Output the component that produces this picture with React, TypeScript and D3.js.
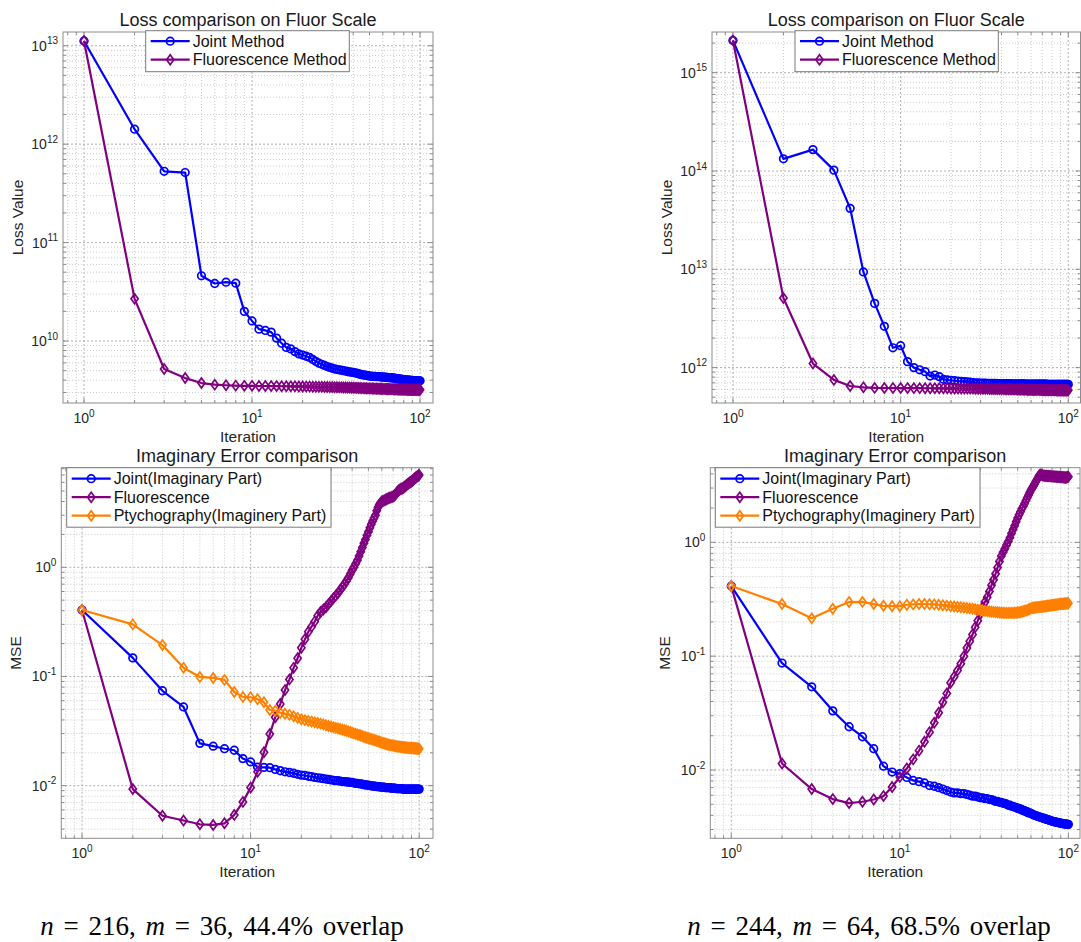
import React from "react";
import * as d3 from "d3";

// ---------- data ----------
const iterations = d3.range(1, 101);

const lossJointA = [
  1.12e13, 1.42e12, 5.3e11, 5.15e11, 4.6e10, 3.84e10, 3.96e10, 3.87e10, 2.0e10, 1.6e10,
  1.32e10, 1.28e10, 1.23e10, 1.07e10, 9.5e9, 8.6e9, 8.3e9, 7.8e9, 7.4e9, 7.2e9,
  7.0e9, 6.8e9, 6.5e9, 6.2e9, 5.95e9, 5.8e9, 5.65e9, 5.5e9, 5.4e9, 5.3e9,
  5.2e9, 5.15e9, 5.1e9, 5.05e9, 5.0e9, 4.95e9, 4.9e9, 4.85e9, 4.82e9, 4.8e9,
  4.75e9, 4.7e9, 4.65e9, 4.6e9, 4.55e9, 4.52e9, 4.5e9, 4.47e9, 4.44e9, 4.4e9,
  4.39e9, 4.38e9, 4.37e9, 4.36e9, 4.35e9, 4.35e9, 4.34e9, 4.33e9, 4.32e9, 4.3e9,
  4.29e9, 4.28e9, 4.27e9, 4.26e9, 4.25e9, 4.24e9, 4.23e9, 4.22e9, 4.21e9, 4.2e9,
  4.18e9, 4.16e9, 4.15e9, 4.13e9, 4.12e9, 4.1e9, 4.09e9, 4.08e9, 4.06e9, 4.05e9,
  4.04e9, 4.03e9, 4.02e9, 4.01e9, 4.0e9, 3.99e9, 3.98e9, 3.98e9, 3.97e9, 3.97e9,
  3.96e9, 3.96e9, 3.96e9, 3.95e9, 3.95e9, 3.95e9, 3.95e9, 3.94e9, 3.94e9, 3.94e9,
];
const lossFluorA = [
  1.12e13, 2.68e10, 5.2e9, 4.2e9, 3.74e9, 3.6e9, 3.55e9, 3.52e9, 3.5e9, 3.5e9,
  3.49e9, 3.49e9, 3.48e9, 3.48e9, 3.47e9, 3.47e9, 3.46e9, 3.46e9, 3.45e9, 3.45e9,
  3.44e9, 3.44e9, 3.43e9, 3.43e9, 3.42e9, 3.42e9, 3.41e9, 3.41e9, 3.4e9, 3.4e9,
  3.39e9, 3.39e9, 3.38e9, 3.38e9, 3.37e9, 3.37e9, 3.36e9, 3.36e9, 3.35e9, 3.35e9,
  3.34e9, 3.34e9, 3.33e9, 3.33e9, 3.32e9, 3.32e9, 3.31e9, 3.31e9, 3.3e9, 3.3e9,
  3.3e9, 3.29e9, 3.29e9, 3.28e9, 3.28e9, 3.28e9, 3.27e9, 3.27e9, 3.27e9, 3.26e9,
  3.26e9, 3.26e9, 3.25e9, 3.25e9, 3.25e9, 3.24e9, 3.24e9, 3.24e9, 3.24e9, 3.23e9,
  3.23e9, 3.23e9, 3.23e9, 3.22e9, 3.22e9, 3.22e9, 3.22e9, 3.22e9, 3.21e9, 3.21e9,
  3.21e9, 3.21e9, 3.21e9, 3.2e9, 3.2e9, 3.2e9, 3.2e9, 3.2e9, 3.2e9, 3.2e9,
  3.2e9, 3.19e9, 3.19e9, 3.19e9, 3.19e9, 3.19e9, 3.19e9, 3.19e9, 3.19e9, 3.19e9,
];
const lossJointB = [
  2.13e15, 1.33e14, 1.65e14, 1.02e14, 4.17e13, 9.4e12, 4.5e12, 2.63e12, 1.59e12, 1.67e12,
  1.15e12, 1.0e12, 9.5e11, 9.1e11, 8.2e11, 8.4e11, 8.1e11, 7.6e11, 7.5e11, 7.4e11,
  7.35e11, 7.3e11, 7.25e11, 7.2e11, 7.15e11, 7.1e11, 7.05e11, 7.0e11, 6.98e11, 6.95e11,
  6.94e11, 6.93e11, 6.92e11, 6.91e11, 6.9e11, 6.9e11, 6.89e11, 6.88e11, 6.88e11, 6.87e11,
  6.87e11, 6.86e11, 6.86e11, 6.85e11, 6.85e11, 6.84e11, 6.84e11, 6.83e11, 6.83e11, 6.82e11,
  6.82e11, 6.82e11, 6.81e11, 6.81e11, 6.81e11, 6.8e11, 6.8e11, 6.8e11, 6.8e11, 6.79e11,
  6.79e11, 6.79e11, 6.79e11, 6.78e11, 6.78e11, 6.78e11, 6.78e11, 6.78e11, 6.77e11, 6.77e11,
  6.77e11, 6.77e11, 6.77e11, 6.77e11, 6.76e11, 6.76e11, 6.76e11, 6.76e11, 6.76e11, 6.76e11,
  6.76e11, 6.76e11, 6.75e11, 6.75e11, 6.75e11, 6.75e11, 6.75e11, 6.75e11, 6.75e11, 6.75e11,
  6.75e11, 6.75e11, 6.75e11, 6.75e11, 6.75e11, 6.75e11, 6.75e11, 6.75e11, 6.75e11, 6.75e11,
];
const lossFluorB = [
  2.13e15, 5.1e12, 1.1e12, 7.5e11, 6.5e11, 6.3e11, 6.22e11, 6.2e11, 6.2e11, 6.19e11,
  6.19e11, 6.18e11, 6.18e11, 6.17e11, 6.17e11, 6.16e11, 6.16e11, 6.15e11, 6.15e11, 6.14e11,
  6.14e11, 6.13e11, 6.13e11, 6.12e11, 6.12e11, 6.11e11, 6.11e11, 6.1e11, 6.1e11, 6.09e11,
  6.09e11, 6.08e11, 6.08e11, 6.07e11, 6.07e11, 6.06e11, 6.06e11, 6.05e11, 6.05e11, 6.04e11,
  6.04e11, 6.03e11, 6.03e11, 6.02e11, 6.02e11, 6.01e11, 6.01e11, 6.0e11, 6.0e11, 5.99e11,
  5.99e11, 5.98e11, 5.98e11, 5.98e11, 5.97e11, 5.97e11, 5.96e11, 5.96e11, 5.96e11, 5.95e11,
  5.95e11, 5.95e11, 5.94e11, 5.94e11, 5.94e11, 5.93e11, 5.93e11, 5.93e11, 5.93e11, 5.92e11,
  5.92e11, 5.92e11, 5.92e11, 5.91e11, 5.91e11, 5.91e11, 5.91e11, 5.91e11, 5.9e11, 5.9e11,
  5.9e11, 5.9e11, 5.9e11, 5.9e11, 5.89e11, 5.89e11, 5.89e11, 5.89e11, 5.89e11, 5.89e11,
  5.89e11, 5.88e11, 5.88e11, 5.88e11, 5.88e11, 5.88e11, 5.88e11, 5.88e11, 5.88e11, 5.88e11,
];

const mseJointA = [
  0.406, 0.148, 0.074, 0.0526, 0.0244, 0.023, 0.0218, 0.0211, 0.0177, 0.0165,
  0.0148, 0.0147, 0.0146, 0.0141, 0.0137, 0.0134, 0.0132, 0.013, 0.0127, 0.0125,
  0.0124, 0.0122, 0.0121, 0.0119, 0.0118, 0.0117, 0.0116, 0.0115, 0.0114, 0.0113,
  0.0112, 0.0111, 0.0111, 0.011, 0.0109, 0.0109, 0.0108, 0.0108, 0.0107, 0.0107,
  0.0106, 0.0105, 0.0105, 0.0104, 0.0104, 0.0103, 0.0102, 0.0102, 0.0101, 0.0101,
  0.01, 0.01, 0.0099, 0.0099, 0.0099, 0.0098, 0.0098, 0.0098, 0.0097, 0.0097,
  0.0097, 0.0097, 0.0096, 0.0096, 0.0096, 0.0096, 0.0096, 0.0095, 0.0095, 0.0095,
  0.0095, 0.0095, 0.0094, 0.0094, 0.0094, 0.0094, 0.0094, 0.0094, 0.0094, 0.0093,
  0.0093, 0.0093, 0.0093, 0.0093, 0.0093, 0.0093, 0.0093, 0.0093, 0.0093, 0.0093,
  0.0093, 0.0093, 0.0093, 0.0093, 0.0093, 0.0093, 0.0093, 0.0093, 0.0093, 0.0093,
];
const mseFluorA = [
  0.406, 0.0093, 0.0053, 0.0048, 0.00443, 0.00437, 0.00452, 0.0054, 0.0071, 0.0096,
  0.0134, 0.0202, 0.0297, 0.0423, 0.056, 0.075, 0.094, 0.12, 0.147, 0.183,
  0.219, 0.257, 0.286, 0.318, 0.36, 0.39, 0.41, 0.43, 0.46, 0.49,
  0.52, 0.55, 0.58, 0.62, 0.66, 0.7, 0.75, 0.8, 0.87, 0.94,
  1.0, 1.08, 1.16, 1.27, 1.39, 1.52, 1.66, 1.8, 1.96, 2.12,
  2.3, 2.48, 2.65, 2.83, 3.0, 3.3, 3.55, 3.75, 3.88, 4.0,
  4.05, 4.1, 4.15, 4.2, 4.25, 4.3, 4.33, 4.37, 4.4, 4.45,
  4.52, 4.62, 4.75, 4.88, 5.0, 5.1, 5.17, 5.22, 5.26, 5.3,
  5.38, 5.46, 5.55, 5.65, 5.75, 5.83, 5.9, 5.97, 6.04, 6.1,
  6.2, 6.3, 6.4, 6.5, 6.6, 6.68, 6.76, 6.84, 6.92, 7.0,
];
const msePtychoA = [
  0.406, 0.3, 0.194, 0.12, 0.099, 0.097, 0.093, 0.072, 0.065, 0.0645,
  0.0618, 0.058, 0.0493, 0.0486, 0.0466, 0.0455, 0.0445, 0.0432, 0.0418, 0.0405,
  0.0398, 0.0392, 0.0386, 0.038, 0.0375, 0.037, 0.0364, 0.0358, 0.0352, 0.0347,
  0.0343, 0.0338, 0.0334, 0.033, 0.0326, 0.0322, 0.0318, 0.0314, 0.031, 0.0305,
  0.0301, 0.0298, 0.0294, 0.0291, 0.0288, 0.0284, 0.0281, 0.0278, 0.0275, 0.0272,
  0.0269, 0.0267, 0.0264, 0.0262, 0.026, 0.0257, 0.0255, 0.0253, 0.025, 0.0248,
  0.0246, 0.0244, 0.0242, 0.024, 0.0239, 0.0237, 0.0236, 0.0235, 0.0234, 0.0233,
  0.0232, 0.0231, 0.023, 0.0229, 0.0228, 0.0228, 0.0227, 0.0226, 0.0226, 0.0225,
  0.0225, 0.0224, 0.0224, 0.0223, 0.0223, 0.0222, 0.0222, 0.0222, 0.0221, 0.0221,
  0.0221, 0.022, 0.022, 0.022, 0.0219, 0.0219, 0.0219, 0.0219, 0.0218, 0.0218,
];

const mseJointB = [
  0.413, 0.087, 0.0538, 0.0331, 0.024, 0.0196, 0.0154, 0.0108, 0.0096, 0.0093,
  0.0086, 0.0081, 0.0079, 0.0077, 0.0073, 0.0072, 0.007, 0.0068, 0.0066, 0.0064,
  0.0063, 0.0063, 0.0062, 0.0062, 0.0061, 0.006, 0.0059, 0.0059, 0.0058, 0.0057,
  0.0057, 0.0056, 0.0056, 0.0055, 0.0055, 0.0054, 0.0053, 0.0053, 0.0052, 0.0052,
  0.0051, 0.0051, 0.005, 0.0049, 0.0049, 0.0048, 0.0048, 0.0047, 0.0047, 0.0046,
  0.0046, 0.0045, 0.0045, 0.0044, 0.0044, 0.0043, 0.0043, 0.0042, 0.0042, 0.00415,
  0.0041, 0.00405, 0.004, 0.00397, 0.00394, 0.00391, 0.00388, 0.00385, 0.00382, 0.0038,
  0.00378, 0.00375, 0.00372, 0.0037, 0.00367, 0.00365, 0.00362, 0.0036, 0.00358, 0.00356,
  0.00354, 0.00352, 0.0035, 0.00349, 0.00348, 0.00346, 0.00345, 0.00344, 0.00342, 0.00341,
  0.0034, 0.00339, 0.00338, 0.00337, 0.00336, 0.00335, 0.00334, 0.00334, 0.00333, 0.00333,
];
const mseFluorB = [
  0.413, 0.0114, 0.0068, 0.00555, 0.00512, 0.00526, 0.00551, 0.0059, 0.0071, 0.0087,
  0.0103, 0.0124, 0.0148, 0.0177, 0.0215, 0.026, 0.0318, 0.0393, 0.0471, 0.0583,
  0.066, 0.075, 0.086, 0.1, 0.118, 0.135, 0.155, 0.18, 0.205, 0.235,
  0.27, 0.3, 0.33, 0.37, 0.42, 0.47, 0.53, 0.6, 0.68, 0.76,
  0.82, 0.88, 0.95, 1.02, 1.1, 1.2, 1.3, 1.4, 1.52, 1.64,
  1.75, 1.86, 1.97, 2.08, 2.2, 2.33, 2.46, 2.6, 2.74, 2.88,
  3.0, 3.12, 3.25, 3.4, 3.53, 3.68, 3.85, 3.95, 3.92, 3.88,
  3.86, 3.85, 3.84, 3.84, 3.83, 3.83, 3.82, 3.82, 3.81, 3.8,
  3.8, 3.79, 3.78, 3.78, 3.77, 3.77, 3.76, 3.76, 3.75, 3.75,
  3.74, 3.74, 3.73, 3.73, 3.72, 3.72, 3.72, 3.73, 3.75, 3.78,
];
const msePtychoB = [
  0.413, 0.287, 0.215, 0.261, 0.299, 0.3, 0.287, 0.277, 0.275, 0.275,
  0.283, 0.285, 0.287, 0.287, 0.286, 0.285, 0.283, 0.28, 0.278, 0.275,
  0.273, 0.271, 0.269, 0.267, 0.265, 0.263, 0.261, 0.259, 0.256, 0.254,
  0.252, 0.25, 0.249, 0.247, 0.246, 0.245, 0.244, 0.243, 0.242, 0.241,
  0.241, 0.24, 0.24, 0.24, 0.24, 0.24, 0.24, 0.241, 0.241, 0.242,
  0.243, 0.244, 0.246, 0.248, 0.25, 0.252, 0.254, 0.257, 0.26, 0.263,
  0.265, 0.266, 0.267, 0.268, 0.269, 0.27, 0.27, 0.271, 0.272, 0.272,
  0.273, 0.274, 0.275, 0.276, 0.277, 0.277, 0.278, 0.279, 0.28, 0.28,
  0.281, 0.282, 0.283, 0.283, 0.284, 0.285, 0.285, 0.286, 0.287, 0.287,
  0.288, 0.288, 0.289, 0.289, 0.29, 0.29, 0.29, 0.291, 0.291, 0.292,
];

const lossTitle = "Loss comparison on Fluor Scale";
const mseTitle = "Imaginary Error comparison";
const lossLabels = ["Joint Method", "Fluorescence Method"];
const mseLabels = ["Joint(Imaginary Part)", "Fluorescence", "Ptychography(Imaginery Part)"];
const footerLeft = { n: "216", m: "36", overlap: "44.4%" };
const footerRight = { n: "244", m: "64", overlap: "68.5%" };

// ---------- styling ----------
const BLUE = "#0000ff";
const PURPLE = "#800080";
const ORANGE = "#ff8000";
const FONT = "'Liberation Sans', Arial, Helvetica, sans-serif";
const AXIS = "#8c8c8c";
const TEXT = "#262626";

type Series = { values: number[]; color: string; marker: "o" | "d"; label: string };
type PanelCfg = {
  left: number; right: number; top: number; bottom: number;
  xExp: [number, number]; yExp: [number, number];
  title: string; ylabel: string; series: Series[];
  legend: { x: number; y: number; w: number; rowH: number; first: number };
};

function Marker({ kind, x, y, color }: { kind: "o" | "d"; x: number; y: number; color: string }) {
  if (kind === "o") return <circle cx={x} cy={y} r={3.8} fill="none" stroke={color} strokeWidth={1.7} />;
  const w = 3.6, h = 5;
  return <path d={`M${x},${y - h}L${x + w},${y}L${x},${y + h}L${x - w},${y}Z`} fill="none" stroke={color} strokeWidth={1.7} />;
}

function Pow10({ e, x, y, anchor }: { e: number; x: number; y: number; anchor: "middle" | "end" }) {
  return (
    <text x={x} y={y} textAnchor={anchor} fontFamily={FONT} fontSize={14} fill={TEXT}>
      10<tspan dy={-6.5} fontSize={10}>{String(e)}</tspan>
    </text>
  );
}

function Panel({ cfg, id }: { cfg: PanelCfg; id: string }) {
  const { left, right, top, bottom } = cfg;
  const x = d3.scaleLog().domain([10 ** cfg.xExp[0], 10 ** cfg.xExp[1]]).range([left, right]);
  const y = d3.scaleLog().domain([10 ** cfg.yExp[0], 10 ** cfg.yExp[1]]).range([bottom, top]);
  const isMajor = (v: number) => Math.abs(Math.log10(v) - Math.round(Math.log10(v))) < 1e-9;
  const xt = x.ticks();
  const yt = y.ticks();
  const line = d3.line<number>().x((_, i) => x(iterations[i])).y((v) => y(v));
  const cx = (left + right) / 2;
  const cy = (top + bottom) / 2;
  const lg = cfg.legend;
  return (
    <g>
      <defs>
        <clipPath id={id}>
          <rect x={left} y={top} width={right - left} height={bottom - top} />
        </clipPath>
      </defs>
      <rect x={left} y={top} width={right - left} height={bottom - top} fill="#fff" />
      {/* grid */}
      {xt.map((t, i) => (
        <line key={"gx" + i} x1={x(t)} x2={x(t)} y1={top} y2={bottom}
          stroke={isMajor(t) ? "#b0b0b0" : "#cacaca"} strokeWidth={1} strokeDasharray={isMajor(t) ? "2,2" : "1,2"} />
      ))}
      {yt.map((t, i) => (
        <line key={"gy" + i} x1={left} x2={right} y1={y(t)} y2={y(t)}
          stroke={isMajor(t) ? "#b0b0b0" : "#cacaca"} strokeWidth={1} strokeDasharray={isMajor(t) ? "2,2" : "1,2"} />
      ))}
      {/* ticks */}
      {xt.map((t, i) => {
        const L = isMajor(t) ? 5 : 3;
        return (
          <g key={"tx" + i}>
            <line x1={x(t)} x2={x(t)} y1={bottom} y2={bottom - L} stroke={AXIS} />
            <line x1={x(t)} x2={x(t)} y1={top} y2={top + L} stroke={AXIS} />
          </g>
        );
      })}
      {yt.map((t, i) => {
        const L = isMajor(t) ? 5 : 3;
        return (
          <g key={"ty" + i}>
            <line x1={left} x2={left + L} y1={y(t)} y2={y(t)} stroke={AXIS} />
            <line x1={right} x2={right - L} y1={y(t)} y2={y(t)} stroke={AXIS} />
          </g>
        );
      })}
      {/* data */}
      <g clipPath={`url(#${id})`}>
        {cfg.series.map((s, si) => (
          <g key={"s" + si}>
            <path d={line(s.values) || ""} fill="none" stroke={s.color} strokeWidth={2.2} strokeLinejoin="round" />
            {s.values.map((v, i) => (
              <Marker key={i} kind={s.marker} x={x(iterations[i])} y={y(v)} color={s.color} />
            ))}
          </g>
        ))}
      </g>
      <rect x={left} y={top} width={right - left} height={bottom - top} fill="none" stroke={AXIS} strokeWidth={1} />
      {/* tick labels */}
      {xt.filter(isMajor).map((t, i) => (
        <Pow10 key={"lx" + i} e={Math.round(Math.log10(t))} x={x(t)} y={bottom + 20} anchor="middle" />
      ))}
      {yt.filter(isMajor).map((t, i) => (
        <Pow10 key={"ly" + i} e={Math.round(Math.log10(t))} x={left - 5} y={y(t) + 5} anchor="end" />
      ))}
      {/* labels */}
      <text x={cx} y={top - 6} textAnchor="middle" fontFamily={FONT} fontSize={18} fill="#1a1a1a">{cfg.title}</text>
      <text x={cx} y={bottom + 39} textAnchor="middle" fontFamily={FONT} fontSize={15.5} fill={TEXT}>Iteration</text>
      <text transform={`translate(${left - 40},${cy}) rotate(-90)`} textAnchor="middle" fontFamily={FONT} fontSize={15.5} fill={TEXT}>{cfg.ylabel}</text>
      {/* legend */}
      <rect x={lg.x} y={lg.y} width={lg.w} height={lg.rowH * cfg.series.length + 4} fill="#fff" stroke="#7a7a7a" strokeWidth={1} />
      {cfg.series.map((s, i) => {
        const ry = lg.y + lg.first + i * lg.rowH;
        return (
          <g key={"lg" + i}>
            <line x1={lg.x + 5} x2={lg.x + 44} y1={ry} y2={ry} stroke={s.color} strokeWidth={2.2} />
            <Marker kind={s.marker} x={lg.x + 24.5} y={ry} color={s.color} />
            <text x={lg.x + 47} y={ry + 5.5} fontFamily={FONT} fontSize={16} fill="#111">{s.label}</text>
          </g>
        );
      })}
    </g>
  );
}

function Footer({ cx, f }: { cx: number; f: { n: string; m: string; overlap: string } }) {
  return (
    <text x={cx} y={935} textAnchor="middle" fontFamily="'Liberation Serif', 'Times New Roman', serif" fontSize={27} wordSpacing={3} fill="#000">
      <tspan fontStyle="italic">n</tspan>{` = ${f.n}, `}<tspan fontStyle="italic">m</tspan>{` = ${f.m}, ${f.overlap} overlap`}
    </text>
  );
}

export default function App() {
  const panels: PanelCfg[] = [
    {
      left: 63, right: 433, top: 32, bottom: 403, xExp: [-0.125, 2.077], yExp: [9.37, 13.14],
      title: lossTitle, ylabel: "Loss Value",
      series: [
        { values: lossJointA, color: BLUE, marker: "o", label: lossLabels[0] },
        { values: lossFluorA, color: PURPLE, marker: "d", label: lossLabels[1] },
      ],
      legend: { x: 145.7, y: 30.7, w: 203.6, rowH: 18.5, first: 10.5 },
    },
    {
      left: 712, right: 1080.5, top: 32, bottom: 403, xExp: [-0.125, 2.073], yExp: [11.64, 15.414],
      title: lossTitle, ylabel: "Loss Value",
      series: [
        { values: lossJointB, color: BLUE, marker: "o", label: lossLabels[0] },
        { values: lossFluorB, color: PURPLE, marker: "d", label: lossLabels[1] },
      ],
      legend: { x: 795, y: 30.7, w: 203.3, rowH: 18.5, first: 10.5 },
    },
    {
      left: 61.3, right: 433, top: 467.7, bottom: 838.3, xExp: [-0.123, 2.082], yExp: [-2.482, 0.912],
      title: mseTitle, ylabel: "MSE",
      series: [
        { values: mseJointA, color: BLUE, marker: "o", label: mseLabels[0] },
        { values: mseFluorA, color: PURPLE, marker: "d", label: mseLabels[1] },
        { values: msePtychoA, color: ORANGE, marker: "d", label: mseLabels[2] },
      ],
      legend: { x: 66.7, y: 467.7, w: 264.3, rowH: 18.5, first: 11 },
    },
    {
      left: 710.3, right: 1080, top: 467.7, bottom: 838.3, xExp: [-0.1246, 2.069], yExp: [-2.6, 0.656],
      title: mseTitle, ylabel: "MSE",
      series: [
        { values: mseJointB, color: BLUE, marker: "o", label: mseLabels[0] },
        { values: mseFluorB, color: PURPLE, marker: "d", label: mseLabels[1] },
        { values: msePtychoB, color: ORANGE, marker: "d", label: mseLabels[2] },
      ],
      legend: { x: 715.3, y: 467.7, w: 264.7, rowH: 18.5, first: 11 },
    },
  ];
  return (
    <svg width={1081} height={942} style={{ position: "absolute", left: 0, top: 0, background: "#fff" }}>
      <rect width={1081} height={942} fill="#fff" />
      {panels.map((p, i) => (
        <Panel key={i} cfg={p} id={"clip" + i} />
      ))}
      <Footer cx={222} f={footerLeft} />
      <Footer cx={869} f={footerRight} />
    </svg>
  );
}
